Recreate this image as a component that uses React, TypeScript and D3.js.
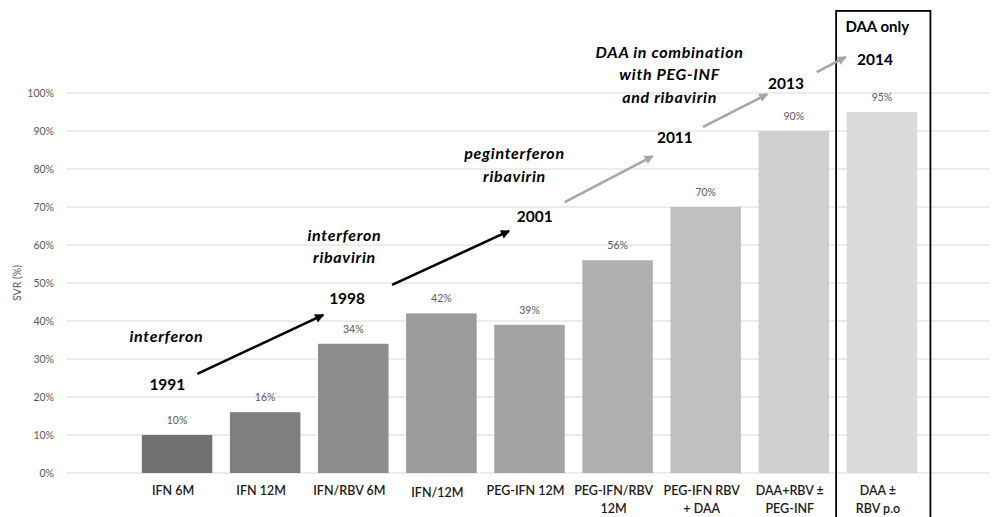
import React from "react";
import * as d3 from "d3";

// chart values
const categories: string[][] = [
  ["IFN 6M"],
  ["IFN 12M"],
  ["IFN/RBV 6M"],
  ["IFN/12M"],
  ["PEG-IFN 12M"],
  ["PEG-IFN/RBV", "12M"],
  ["PEG-IFN RBV", "+ DAA"],
  ["DAA+RBV \u00b1", "PEG-INF"],
  ["DAA \u00b1", "RBV p.o"],
];
const svr = [10, 16, 34, 42, 39, 56, 70, 90, 95];
const yTicks = [0, 10, 20, 30, 40, 50, 60, 70, 80, 90, 100];

// annotations, placed in data units: i = category index, v = percent
const years = [
  { text: "1991", i: -0.11, v: 23.4 },
  { text: "1998", i: 1.93, v: 46 },
  { text: "2001", i: 4.06, v: 67.4 },
  { text: "2011", i: 5.65, v: 88.2 },
  { text: "2013", i: 6.91, v: 102.6 },
  { text: "2014", i: 7.92, v: 108.7 },
];
const eras = [
  { lines: ["interferon"], i: -0.12, v: 36 },
  { lines: ["interferon", "ribavirin"], i: 1.9, v: 62.6 },
  { lines: ["peginterferon", "ribavirin"], i: 3.83, v: 84 },
  { lines: ["DAA in combination", "with PEG-INF", "and ribavirin"], i: 5.59, v: 110.8 },
];
const arrows = [
  { from: [0.23, 26.1], to: [1.66, 41.6], dark: true },
  { from: [2.44, 49.5], to: [3.77, 63.7], dark: true },
  { from: [4.4, 71.3], to: [5.4, 83.4], dark: false },
  { from: [5.97, 91.1], to: [6.7, 99.7], dark: false },
  { from: [7.26, 105.5], to: [7.59, 109.5], dark: false },
];
const daaBox = { i0: 7.48, i1: 8.55, v0: -13, v1: 121.6, title: "DAA only" };

const barColors = ["#717171", "#7f7f7f", "#8c8c8c", "#9b9b9b", "#a3a3a3", "#b0b0b0", "#c0c0c0", "#cfcfcf", "#dbdbdb"];

const W = 994;
const H = 517;
const font = "Lato, 'Open Sans', sans-serif";

export default function App() {
  const x = d3
    .scaleBand<number>()
    .domain(d3.range(categories.length))
    .range([133, 926])
    .paddingInner(0.2)
    .paddingOuter(0.1);
  const y = d3.scaleLinear().domain([0, 100]).range([473, 93]);
  // continuous index position (center of band i)
  const xi = (i: number) => (x(0) as number) + x.bandwidth() / 2 + i * x.step();

  const lineH = 22.5;

  return (
    <svg
      width={W}
      height={H}
      style={{ position: "absolute", left: 0, top: 0, background: "#fff" }}
      fontFamily={font}
    >
      <defs>
        <marker id="headDark" viewBox="0 0 10 10" refX="9" refY="5" markerWidth="11" markerHeight="9" markerUnits="userSpaceOnUse" orient="auto">
          <path d="M0,0 L10,5 L0,10 Z" fill="#000" />
        </marker>
        <marker id="headGrey" viewBox="0 0 10 10" refX="9" refY="5" markerWidth="11" markerHeight="9" markerUnits="userSpaceOnUse" orient="auto">
          <path d="M0,0 L10,5 L0,10 Z" fill="#a6a6a6" />
        </marker>
      </defs>

      {/* gridlines and y ticks */}
      {yTicks.map((t) => (
        <g key={t}>
          <line x1={66} x2={990} y1={y(t)} y2={y(t)} stroke="#d9d9d9" strokeWidth={1} />
          <text x={54} y={y(t)} dy="0.35em" textAnchor="end" fontSize={10.5} fill="#595959">
            {t}%
          </text>
        </g>
      ))}
      <text
        transform={`translate(21,${(y(0) + y(100)) / 2}) rotate(-90)`}
        textAnchor="middle"
        fontSize={10.5}
        fill="#595959"
      >
        SVR (%)
      </text>

      {/* bars */}
      {svr.map((v, i) => (
        <g key={i}>
          <rect x={x(i)} y={y(v)} width={x.bandwidth()} height={y(0) - y(v)} fill={barColors[i]} />
          <text x={xi(i)} y={y(v) - 11} textAnchor="middle" fontSize={10.5} fill="#595959">
            {v}%
          </text>
        </g>
      ))}

      {/* category labels */}
      {categories.map((lines, i) => (
        <text key={i} x={xi(i) - 4} y={495} textAnchor="middle" fontSize={12.5} fill="#1a1a1a" fontWeight={600}>
          {lines.map((l, k) => (
            <tspan key={k} x={xi(i) - 4} dy={k === 0 ? (lines[0] === "IFN/12M" ? 2 : 0) : 18}>
              {l}
            </tspan>
          ))}
        </text>
      ))}

      {/* DAA box */}
      <rect
        x={xi(daaBox.i0)}
        y={y(daaBox.v1)}
        width={xi(daaBox.i1) - xi(daaBox.i0)}
        height={y(daaBox.v0) - y(daaBox.v1)}
        fill="none"
        stroke="#000"
        strokeWidth={1.8}
      />
      <text x={(xi(daaBox.i0) + xi(daaBox.i1)) / 2 - 6} y={y(117.4)} dy="0.35em" textAnchor="middle" fontSize={15} fontWeight={700} fill="#000">
        {daaBox.title}
      </text>

      {/* arrows */}
      {arrows.map((a, k) => (
        <line
          key={k}
          x1={xi(a.from[0])}
          y1={y(a.from[1])}
          x2={xi(a.to[0])}
          y2={y(a.to[1])}
          stroke={a.dark ? "#000" : "#a6a6a6"}
          strokeWidth={2.6}
          markerEnd={a.dark ? "url(#headDark)" : "url(#headGrey)"}
        />
      ))}

      {/* years */}
      {years.map((d) => (
        <text key={d.text} x={xi(d.i)} y={y(d.v)} dy="0.35em" textAnchor="middle" fontSize={15.5} fontWeight={700} fill="#000">
          {d.text}
        </text>
      ))}

      {/* treatment eras */}
      {eras.map((d, k) => (
        <text key={k} textAnchor="middle" fontSize={16} fontWeight={700} fontStyle="italic" letterSpacing={0.7} fill="#000">
          {d.lines.map((l, j) => (
            <tspan key={j} x={xi(d.i)} y={y(d.v) + j * lineH} dy="0.35em">
              {l}
            </tspan>
          ))}
        </text>
      ))}
    </svg>
  );
}
